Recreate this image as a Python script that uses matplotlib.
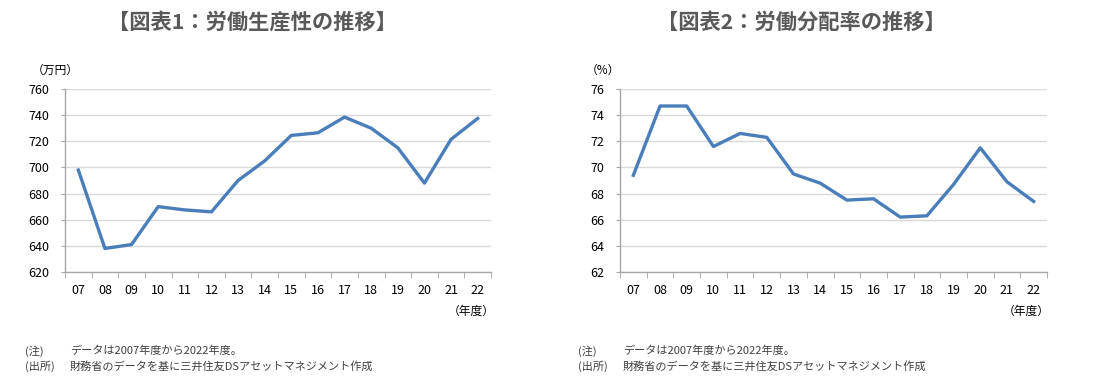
import matplotlib
matplotlib.use("Agg")
import matplotlib.pyplot as plt
import numpy as np

plt.rcParams['font.family'] = ['Noto Sans CJK JP', 'DejaVu Sans']

years = ["07", "08", "09", "10", "11", "12", "13", "14", "15", "16", "17", "18", "19", "20", "21", "22"]
productivity = [698, 638, 641, 670, 667.5, 666, 690, 705, 724.5, 726.5, 738.5, 730, 715, 688, 721.5, 737.5]
labor_share = [69.4, 74.7, 74.7, 71.6, 72.6, 72.3, 69.5, 68.8, 67.5, 67.6, 66.2, 66.3, 68.7, 71.5, 68.9, 67.4]

title1 = "【図表1：労働生産性の推移】"
title2 = "【図表2：労働分配率の推移】"
unit1 = "（万円）"
unit2 = "（%）"
xunit = "（年度）"
note_label = "(注)"
note_text = "データは2007年度から2022年度。"
src_label = "(出所)"
src_text = "財務省のデータを基に三井住友DSアセットマネジメント作成"

W, H = 1100, 381
fig = plt.figure(figsize=(W / 100, H / 100), dpi=100)

line_color = "#4A7EBB"
grid_color = "#D9D9D9"
spine_color = "#A6A6A6"
text_color = "#000000"


def px_axes(x0, x1, y0, y1):
    return fig.add_axes([x0 / W, 1 - y1 / H, (x1 - x0) / W, (y1 - y0) / H])


def draw(ax, values, ymin, ymax, ystep):
    x = np.arange(len(years))
    ax.plot(x, values, color=line_color, lw=2.4, solid_joinstyle="round", zorder=3)
    ax.set_xlim(-0.5, len(years) - 0.5)
    ax.set_ylim(ymin, ymax)
    ticks = np.arange(ymin, ymax + 0.01, ystep)
    ax.set_yticks(ticks)
    ax.set_yticklabels([f"{int(v)}" for v in ticks])
    ax.set_xticks(x)
    ax.set_xticklabels(years)
    ax.set_xticks(np.arange(-0.5, len(years)), minor=True)
    ax.tick_params(axis="x", which="major", length=0, pad=9, labelsize=9, colors=text_color)
    ax.tick_params(axis="x", which="minor", length=4, direction="out", color=spine_color)
    ax.tick_params(axis="y", length=3, labelsize=9, pad=8, colors=text_color)
    ax.tick_params(axis="y", color=spine_color)
    ax.grid(axis="y", color=grid_color, lw=1)
    ax.set_axisbelow(True)
    for s in ["top", "right"]:
        ax.spines[s].set_visible(False)
    for s in ["left", "bottom"]:
        ax.spines[s].set_color(spine_color)
        ax.spines[s].set_linewidth(1)


ax1 = px_axes(65, 491, 89, 272)
draw(ax1, productivity, 620, 760, 20)
ax2 = px_axes(620, 1047, 89, 272)
draw(ax2, labor_share, 62, 76, 2)

title_kw = dict(fontsize=15.3, fontweight="bold", color="#595959", ha="center", va="center")
fig.text(252 / W, 1 - 22 / H, title1, **title_kw)
fig.text(801 / W, 1 - 22 / H, title2, **title_kw)

fig.text(32 / W, 1 - 70 / H, unit1, fontsize=8.5, ha="left", va="center", color=text_color)
fig.text(586 / W, 1 - 70 / H, unit2, fontsize=8.5, ha="left", va="center", color=text_color)

fig.text(495 / W, 1 - 311 / H, xunit, fontsize=8.5, ha="right", va="center", color=text_color)
fig.text(1050 / W, 1 - 311 / H, xunit, fontsize=8.5, ha="right", va="center", color=text_color)

foot_kw = dict(fontsize=8, ha="left", va="center", color="#404040")
for bx, tx in [(25, 70), (578, 623)]:
    fig.text(bx / W, 1 - 351 / H, note_label, **foot_kw)
    fig.text(tx / W, 1 - 351 / H, note_text, **foot_kw)
    fig.text(bx / W, 1 - 366 / H, src_label, **foot_kw)
    fig.text(tx / W, 1 - 366 / H, src_text, **foot_kw)

fig.savefig("out.png", dpi=100)
